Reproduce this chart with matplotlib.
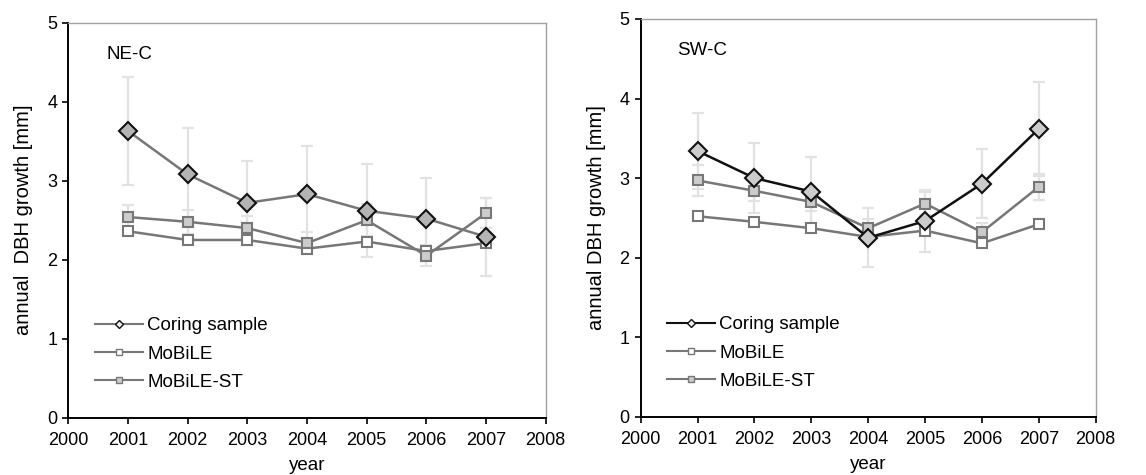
import matplotlib
matplotlib.use("Agg")
import matplotlib.pyplot as plt
from matplotlib.lines import Line2D

plt.rcParams['font.family'] = ['Liberation Sans', 'DejaVu Sans']

years = [2001, 2002, 2003, 2004, 2005, 2006, 2007]

# NE-C site
ne_coring = [3.63, 3.08, 2.72, 2.83, 2.62, 2.52, 2.29]
ne_coring_err = [0.68, 0.59, 0.53, 0.61, 0.59, 0.51, 0.49]
ne_mobile = [2.36, 2.25, 2.25, 2.14, 2.23, 2.11, 2.21]
ne_mobile_st = [2.54, 2.48, 2.40, 2.21, 2.50, 2.05, 2.59]
ne_mobile_st_err = [0.15, 0.15, 0.15, 0.14, 0.20, 0.13, 0.19]

# SW-C site
sw_coring = [3.34, 3.00, 2.83, 2.25, 2.46, 2.93, 3.62]
sw_coring_err = [0.48, 0.44, 0.43, 0.37, 0.39, 0.43, 0.59]
sw_mobile = [2.52, 2.45, 2.37, 2.26, 2.34, 2.18, 2.42]
sw_mobile_st = [2.97, 2.84, 2.70, 2.37, 2.68, 2.32, 2.89]
sw_mobile_st_err = [0.20, 0.13, 0.12, 0.12, 0.15, 0.12, 0.16]

series_labels = ["Coring sample", "MoBiLE", "MoBiLE-ST"]
x_ticks = [2000, 2001, 2002, 2003, 2004, 2005, 2006, 2007, 2008]
y_ticks = [0, 1, 2, 3, 4, 5]

GRAY = "#777777"
ERR = "#e2e2e2"

fig = plt.figure(figsize=(11.46, 4.75), dpi=100)
ax1 = fig.add_axes([0.0596, 0.1206, 0.4166, 0.8316])
ax2 = fig.add_axes([0.5591, 0.1227, 0.3970, 0.8373])


def draw(ax, coring, coring_err, mobile, mobile_st, mobile_st_err,
         site, coring_line, coring_fill, ylabel):
    ax.errorbar(years, coring, yerr=coring_err, fmt='none', ecolor=ERR,
                elinewidth=1.6, capsize=4, capthick=1.6, zorder=1)
    ax.errorbar(years, mobile_st, yerr=mobile_st_err, fmt='none', ecolor=ERR,
                elinewidth=1.6, capsize=4, capthick=1.6, zorder=1)
    ax.plot(years, mobile, color=GRAY, lw=1.8, marker='s', ms=6.5,
            mfc='white', mec=GRAY, mew=1.5, zorder=3)
    ax.plot(years, mobile_st, color=GRAY, lw=1.8, marker='s', ms=6.5,
            mfc='#cccccc', mec=GRAY, mew=1.5, zorder=4)
    ax.plot(years, coring, color=coring_line, lw=1.8, marker='D', ms=8.8,
            mfc=coring_fill, mec='#111111', mew=1.5, zorder=5)

    ax.set_xlim(2000, 2008)
    ax.set_ylim(0, 5)
    ax.set_xticks(x_ticks)
    ax.set_yticks(y_ticks)
    ax.tick_params(labelsize=13, direction='out', length=4, width=1.2,
                   colors='black')
    ax.tick_params(axis='x', pad=6)
    ax.tick_params(axis='y', pad=4)
    for s in ('left', 'bottom'):
        ax.spines[s].set_color('black')
        ax.spines[s].set_linewidth(1.4)
    for s in ('top', 'right'):
        ax.spines[s].set_color('#a0a0a0')
        ax.spines[s].set_linewidth(1.0)
    ax.set_xlabel("year", fontsize=13.5, labelpad=6)
    ax.set_ylabel(ylabel, fontsize=14.5, labelpad=10)
    ax.text(0.08, 0.92, site, transform=ax.transAxes, fontsize=13.5,
            va='center', ha='left')

    handles = [
        Line2D([], [], color=coring_line, lw=1.5, marker='D', ms=4,
               mfc='#eeeeee', mec='#111111', mew=1.0),
        Line2D([], [], color=GRAY, lw=1.5, marker='s', ms=4.5,
               mfc='white', mec=GRAY, mew=1.0),
        Line2D([], [], color=GRAY, lw=1.5, marker='s', ms=4.5,
               mfc='#cccccc', mec=GRAY, mew=1.0),
    ]
    ax.legend(handles, series_labels, loc='lower left', frameon=False,
              fontsize=13.5, handlelength=2.6, handletextpad=0.2,
              labelspacing=0.6, bbox_to_anchor=(0.02, 0.025))


draw(ax1, ne_coring, ne_coring_err, ne_mobile, ne_mobile_st, ne_mobile_st_err,
     "NE-C", GRAY, '#b4b4b4', "annual  DBH growth [mm]")
draw(ax2, sw_coring, sw_coring_err, sw_mobile, sw_mobile_st, sw_mobile_st_err,
     "SW-C", '#111111', '#cccccc', "annual DBH growth [mm]")

fig.savefig("out.png", dpi=100)
